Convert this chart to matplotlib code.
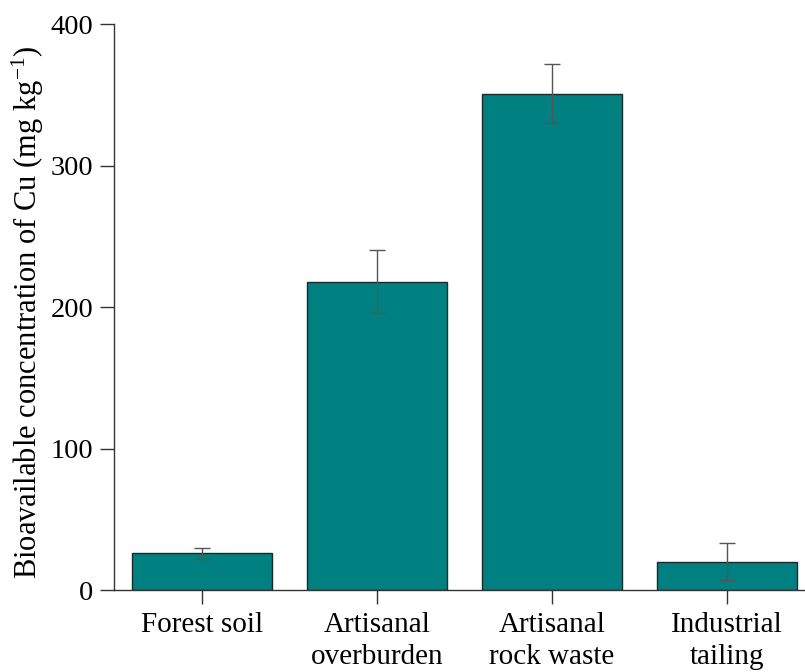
import matplotlib.pyplot as plt

plt.rcParams['font.family'] = 'Liberation Serif'
plt.rcParams['mathtext.fontset'] = 'custom'
plt.rcParams['mathtext.rm'] = 'Liberation Serif'
plt.rcParams['mathtext.default'] = 'regular'

# Cu bioavailable concentration per site type
sites = ['Forest soil', 'Artisanal\noverburden', 'Artisanal\nrock waste', 'Industrial\ntailing']
cu_mean = [26, 218, 351, 20]
cu_err = [4, 22.5, 21, 13]

fig = plt.figure(figsize=(8.05, 6.72), dpi=100)
ax = fig.add_axes([0.1416, 0.122, 0.8584, 0.842])

x = range(len(sites))
ax.bar(x, cu_mean, width=0.8, color='#008080', edgecolor='#1a2a2a', linewidth=1.0)
ax.errorbar(x, cu_mean, yerr=cu_err, fmt='none', ecolor='#555555',
            elinewidth=1.0, capsize=6, capthick=1.0)

ax.set_xlim(-0.503, 3.446)
ax.set_ylim(0, 400)
ax.set_yticks([0, 100, 200, 300, 400])
ax.set_xticks(list(x))
ax.set_xticklabels(sites, fontsize=21, linespacing=1.3)
ax.tick_params(axis='y', labelsize=20.5, length=10, width=1.0, color='#333333', pad=5)
ax.tick_params(axis='x', length=10, width=1.0, color='#333333', pad=6)

for s in ['top', 'right']:
    ax.spines[s].set_visible(False)
for s in ['left', 'bottom']:
    ax.spines[s].set_color('#333333')
    ax.spines[s].set_linewidth(1.0)

ax.set_ylabel('Bioavailable concentration of Cu (mg kg$^{-1}$)', fontsize=22)
ax.yaxis.set_label_coords(-0.098, 0.491)

fig.savefig('out.png', dpi=100)
